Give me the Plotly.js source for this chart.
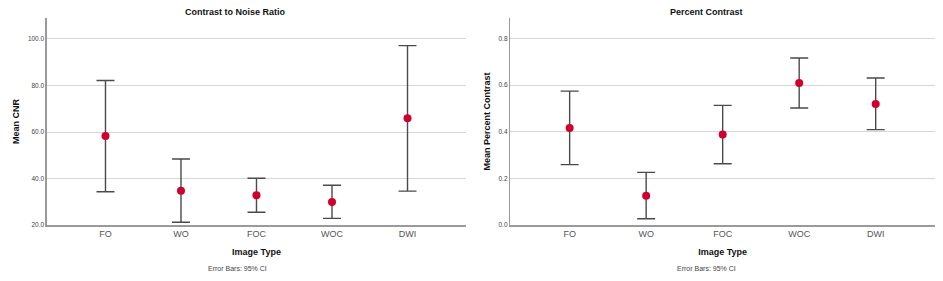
<!DOCTYPE html>
<html>
<head>
<meta charset="utf-8">
<script src="https://cdn.plot.ly/plotly-3.0.1.min.js"></script>
<style>html,body{margin:0;padding:0;background:#fff;}#chart{width:943px;height:281px;}</style>
</head>
<body>
<div id="chart"></div>
<script>
const categories = ["FO", "WO", "FOC", "WOC", "DWI"];
const cnrMean  = [58.3, 34.8, 32.8, 29.9, 65.9];
const cnrLower = [34.3, 21.2, 25.5, 22.9, 34.6];
const cnrUpper = [82.1, 48.4, 40.1, 37.1, 97.1];
const pcMean  = [0.416, 0.126, 0.388, 0.609, 0.519];
const pcLower = [0.259, 0.027, 0.263, 0.502, 0.409];
const pcUpper = [0.574, 0.226, 0.513, 0.716, 0.630];
const cnrTicks = [20, 40, 60, 80, 100];
const cnrTickLabels = ["20.0", "40.0", "60.0", "80.0", "100.0"];
const pcTicks = [0, 0.2, 0.4, 0.6, 0.8];
const pcTickLabels = ["0.0", "0.2", "0.4", "0.6", "0.8"];

const FONT = "Liberation Sans, Arial, sans-serif";
const markerColor = "#d0002e";
const barColor = "#4a4a4a";

function trace(mean, lo, hi, xa, ya) {
  return {
    type: "scatter", mode: "markers",
    x: categories, y: mean, xaxis: xa, yaxis: ya,
    marker: {color: markerColor, size: 8},
    error_y: {
      type: "data", symmetric: false,
      array: hi.map((v, i) => v - mean[i]),
      arrayminus: mean.map((v, i) => v - lo[i]),
      color: barColor, thickness: 1.4, width: 9
    },
    hoverinfo: "x+y", showlegend: false
  };
}

const xcommon = {
  type: "category", range: [-0.775, 4.775],
  showline: true, linecolor: "#9a9a9a", linewidth: 1.5,
  showgrid: false, zeroline: false, ticks: "",
  tickfont: {family: FONT, size: 9, color: "#555"},
  title: {text: "<b>Image Type</b>", font: {family: FONT, size: 9, color: "#111"}, standoff: 10},
  fixedrange: true, automargin: false
};
const ycommon = {
  showline: true, linecolor: "#9a9a9a", linewidth: 1.5,
  showgrid: true, gridcolor: "#d6d6d6", gridwidth: 1,
  zeroline: false, ticks: "",
  tickfont: {family: FONT, size: 6.5, color: "#444"},
  fixedrange: true, automargin: false
};

const data = [
  trace(cnrMean, cnrLower, cnrUpper, "x", "y"),
  trace(pcMean, pcLower, pcUpper, "x2", "y2")
];

const layout = {
  width: 943, height: 281,
  margin: {l: 0, r: 0, t: 0, b: 0},
  paper_bgcolor: "#fff", plot_bgcolor: "#fff",
  font: {family: FONT},
  xaxis: Object.assign({}, xcommon, {domain: [0.0498, 0.4942], anchor: "y"}),
  xaxis2: Object.assign({}, xcommon, {domain: [0.5412, 0.9915], anchor: "y2"}),
  yaxis: Object.assign({}, ycommon, {
    domain: [0.199, 0.936], anchor: "x", range: [20, 109],
    tickvals: cnrTicks, ticktext: cnrTickLabels,
    title: {text: "<b>Mean CNR</b>", font: {family: FONT, size: 9, color: "#111"}, standoff: 6}
  }),
  yaxis2: Object.assign({}, ycommon, {
    domain: [0.199, 0.936], anchor: "x2", range: [0, 0.8875],
    tickvals: pcTicks, ticktext: pcTickLabels,
    title: {text: "<b>Mean Percent Contrast</b>", font: {family: FONT, size: 9, color: "#111"}, standoff: 6}
  }),
  annotations: [
    {text: "<b>Contrast to Noise Ratio</b>", xref: "paper", yref: "paper", x: 235/943, y: 1 - 12/281,
     xanchor: "center", yanchor: "middle", showarrow: false, font: {family: FONT, size: 9, color: "#111"}},
    {text: "<b>Percent Contrast</b>", xref: "paper", yref: "paper", x: 706.5/943, y: 1 - 12/281,
     xanchor: "center", yanchor: "middle", showarrow: false, font: {family: FONT, size: 9, color: "#111"}},
    {text: "Error Bars: 95% CI", xref: "paper", yref: "paper", x: 237/943, y: 1 - 268/281,
     xanchor: "center", yanchor: "middle", showarrow: false, font: {family: FONT, size: 7, color: "#444"}},
    {text: "Error Bars: 95% CI", xref: "paper", yref: "paper", x: 706.5/943, y: 1 - 268/281,
     xanchor: "center", yanchor: "middle", showarrow: false, font: {family: FONT, size: 7, color: "#444"}}
  ]
};

Plotly.newPlot("chart", data, layout, {displayModeBar: false, staticPlot: true});
</script>
</body>
</html>
